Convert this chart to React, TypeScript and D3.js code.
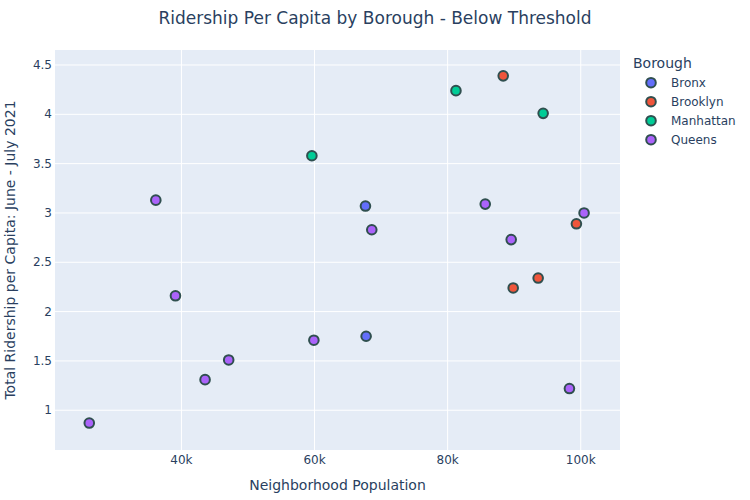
import React from "react";
import * as d3 from "d3";

// borough series, values
const boroughs = ["Bronx", "Brooklyn", "Manhattan", "Queens"];
const colors = ["#636efa", "#EF553B", "#00cc96", "#ab63fa"];

const bronxPop = [67650, 67750];
const bronxRides = [3.07, 1.75];

const brooklynPop = [88350, 99350, 93600, 89850];
const brooklynRides = [4.39, 2.89, 2.34, 2.24];

const manhattanPop = [81250, 59600, 94350];
const manhattanRides = [4.24, 3.58, 4.01];

const queensPop = [36150, 39100, 43550, 47100, 26150, 68600, 85650, 59900, 100500, 89550, 98300];
const queensRides = [3.13, 2.16, 1.31, 1.51, 0.87, 2.83, 3.09, 1.71, 3.0, 2.73, 1.22];

const xTicks = [40000, 60000, 80000, 100000];
const yTicks = [1, 1.5, 2, 2.5, 3, 3.5, 4, 4.5];

const W = 750;
const H = 500;
const margin = { top: 50, right: 130, bottom: 50, left: 55 };
const font = '"DejaVu Sans", verdana, sans-serif';
const ink = "#2a3f5f";
const markerR = 4.8;

export default function App() {
  const x = d3
    .scaleLinear()
    .domain([21000, 105900])
    .range([margin.left, W - margin.right]);
  const y = d3
    .scaleLinear()
    .domain([0.597, 4.652])
    .range([H - margin.bottom, margin.top]);

  const series = [
    { name: boroughs[0], pop: bronxPop, rides: bronxRides },
    { name: boroughs[1], pop: brooklynPop, rides: brooklynRides },
    { name: boroughs[2], pop: manhattanPop, rides: manhattanRides },
    { name: boroughs[3], pop: queensPop, rides: queensRides },
  ];

  const fmt = (v: number) => `${v / 1000}k`;

  return (
    <svg
      width={W}
      height={H}
      style={{ position: "absolute", left: 0, top: 0, background: "#fff" }}
      fontFamily={font}
    >
      <rect
        x={margin.left}
        y={margin.top}
        width={W - margin.left - margin.right}
        height={H - margin.top - margin.bottom}
        fill="#E5ECF6"
      />
      {xTicks.map((t) => (
        <g key={"x" + t}>
          <line x1={x(t)} x2={x(t)} y1={margin.top} y2={H - margin.bottom} stroke="#fff" strokeWidth={1} />
          <text x={x(t)} y={H - margin.bottom + 14} textAnchor="middle" fontSize={12} fill={ink}>
            {fmt(t)}
          </text>
        </g>
      ))}
      {yTicks.map((t) => (
        <g key={"y" + t}>
          <line x1={margin.left} x2={W - margin.right} y1={y(t)} y2={y(t)} stroke="#fff" strokeWidth={1} />
          <text x={margin.left - 3} y={y(t) + 4} textAnchor="end" fontSize={12} fill={ink}>
            {t}
          </text>
        </g>
      ))}
      {series.map((s, i) => (
        <g key={s.name}>
          {s.pop.map((p, j) => (
            <circle
              key={j}
              cx={x(p)}
              cy={y(s.rides[j])}
              r={markerR}
              fill={colors[i]}
              stroke="#2F4F4F"
              strokeWidth={2}
            />
          ))}
        </g>
      ))}
      <text x={375} y={24} textAnchor="middle" fontSize={17} fill={ink}>
        Ridership Per Capita by Borough - Below Threshold
      </text>
      <text
        x={(margin.left + W - margin.right) / 2}
        y={490}
        textAnchor="middle"
        fontSize={14}
        fill={ink}
      >
        Neighborhood Population
      </text>
      <text
        transform={`translate(15,${(margin.top + H - margin.bottom) / 2}) rotate(-90)`}
        textAnchor="middle"
        fontSize={14}
        fill={ink}
      >
        Total Ridership per Capita: June - July 2021
      </text>
      <g>
        <text x={633} y={68} fontSize={14} fill={ink}>
          Borough
        </text>
        {boroughs.map((b, i) => (
          <g key={b} transform={`translate(0,${82.7 + i * 19})`}>
            <circle cx={651} cy={0} r={markerR} fill={colors[i]} stroke="#2F4F4F" strokeWidth={2} />
            <text x={671} y={4.5} fontSize={12} fill={ink}>
              {b}
            </text>
          </g>
        ))}
      </g>
    </svg>
  );
}
